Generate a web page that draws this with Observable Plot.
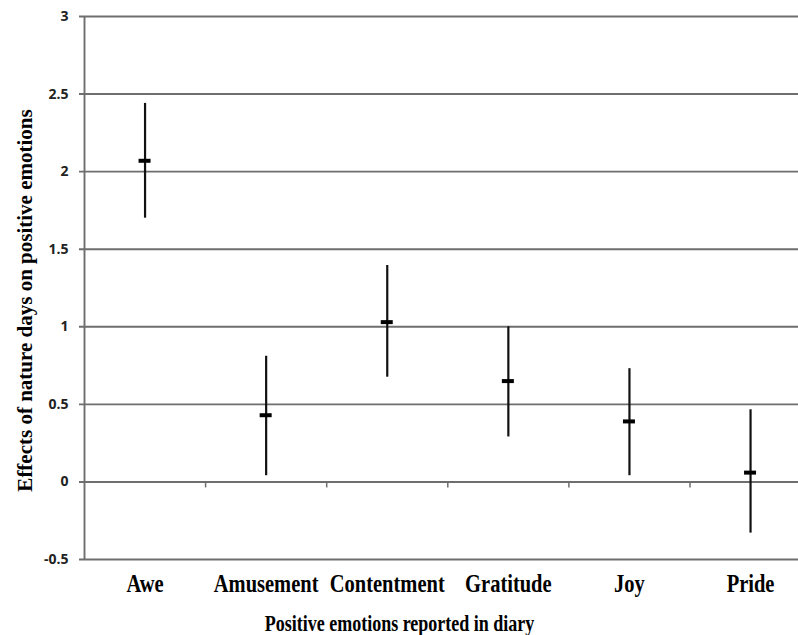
<!DOCTYPE html>
<html><head><meta charset="utf-8">
<script src="https://cdn.jsdelivr.net/npm/d3@7"></script>
<script src="https://cdn.jsdelivr.net/npm/@observablehq/plot@0.6"></script>
<style>html,body{margin:0;padding:0;background:#fff;overflow:hidden}</style>
</head><body><div id="chart"></div>
<script>
const categories = ["Awe", "Amusement", "Contentment", "Gratitude", "Joy", "Pride"];
const means = [2.07, 0.43, 1.03, 0.65, 0.39, 0.06];
const lower = [1.70, 0.04, 0.675, 0.29, 0.04, -0.33];
const upper = [2.44, 0.81, 1.395, 1.00, 0.73, 0.465];
const yTicks = [-0.5, 0, 0.5, 1, 1.5, 2, 2.5, 3];
const yTitle = "Effects of nature days on positive emotions";
const xTitle = "Positive emotions reported in diary";

const data = categories.map((c, i) => ({cat: c, pos: i + 0.5, mean: means[i], lo: lower[i], hi: upper[i]}));
const centers = categories.map((c, i) => i + 0.5);
const boundaries = categories.slice(1).map((c, i) => i + 1);

const grid = "#6e6e6e";
const serif = "'Liberation Serif', 'Times New Roman', serif";

const chart = Plot.plot({
  width: 798, height: 635,
  marginLeft: 84, marginRight: 0, marginTop: 16, marginBottom: 76,
  style: {background: "#fff", overflow: "hidden"},
  x: {domain: [0, categories.length], range: [84, 810.6], axis: null},
  y: {domain: [-0.5, 3], axis: null},
  marks: [
    Plot.ruleY(yTicks, {stroke: grid, strokeWidth: 1.9, insetLeft: -5}),
    Plot.ruleX([0], {stroke: grid, strokeWidth: 1.9}),
    Plot.ruleX(boundaries, {y1: 0, y2: 0, insetBottom: -6, stroke: grid, strokeWidth: 1.5}),
    Plot.axisY(yTicks, {anchor: "left", tickSize: 0, tickPadding: 16, label: null,
      tickFormat: d => String(d), fontFamily: "'Open Sans', sans-serif", fontSize: 14, fontWeight: "bold", fill: "#222"}),
    Plot.axisX(centers, {anchor: "bottom", tickSize: 0, tickPadding: 15, label: null, className: "xlab",
      tickFormat: d => categories[Math.floor(d)], fontFamily: serif, fontSize: 20.5, fontWeight: "bold", fill: "#000"}),
    Plot.ruleX(data, {x: "pos", y1: "lo", y2: "hi", stroke: "#111", strokeWidth: 2.2}),
    Plot.ruleY(data, {y: "mean", x1: "pos", x2: "pos", insetLeft: -6, insetRight: -6, stroke: "#000", strokeWidth: 4}),
    Plot.text([xTitle], {frameAnchor: "bottom", textAnchor: "middle", lineAnchor: "middle", className: "xtitle",
      dx: -42, dy: 64.5, fontFamily: serif, fontSize: 18, fontWeight: "bold", fill: "#000"}),
    Plot.text([yTitle], {frameAnchor: "left", textAnchor: "middle", lineAnchor: "middle", rotate: -90,
      dx: -59, dy: 12.5, fontFamily: serif, fontSize: 21, fontWeight: "bold", fill: "#000"})
  ]
});
// stretch horizontal serif texts vertically, as in the reference picture
d3.select(chart).selectAll(".xlab text").attr("transform", function() {
  return this.getAttribute("transform") + " scale(1,1.18)";
});
d3.select(chart).selectAll(".xtitle text").attr("transform", function() {
  return this.getAttribute("transform") + " scale(1,1.28)";
});
document.getElementById("chart").append(chart);
</script>
</body></html>
